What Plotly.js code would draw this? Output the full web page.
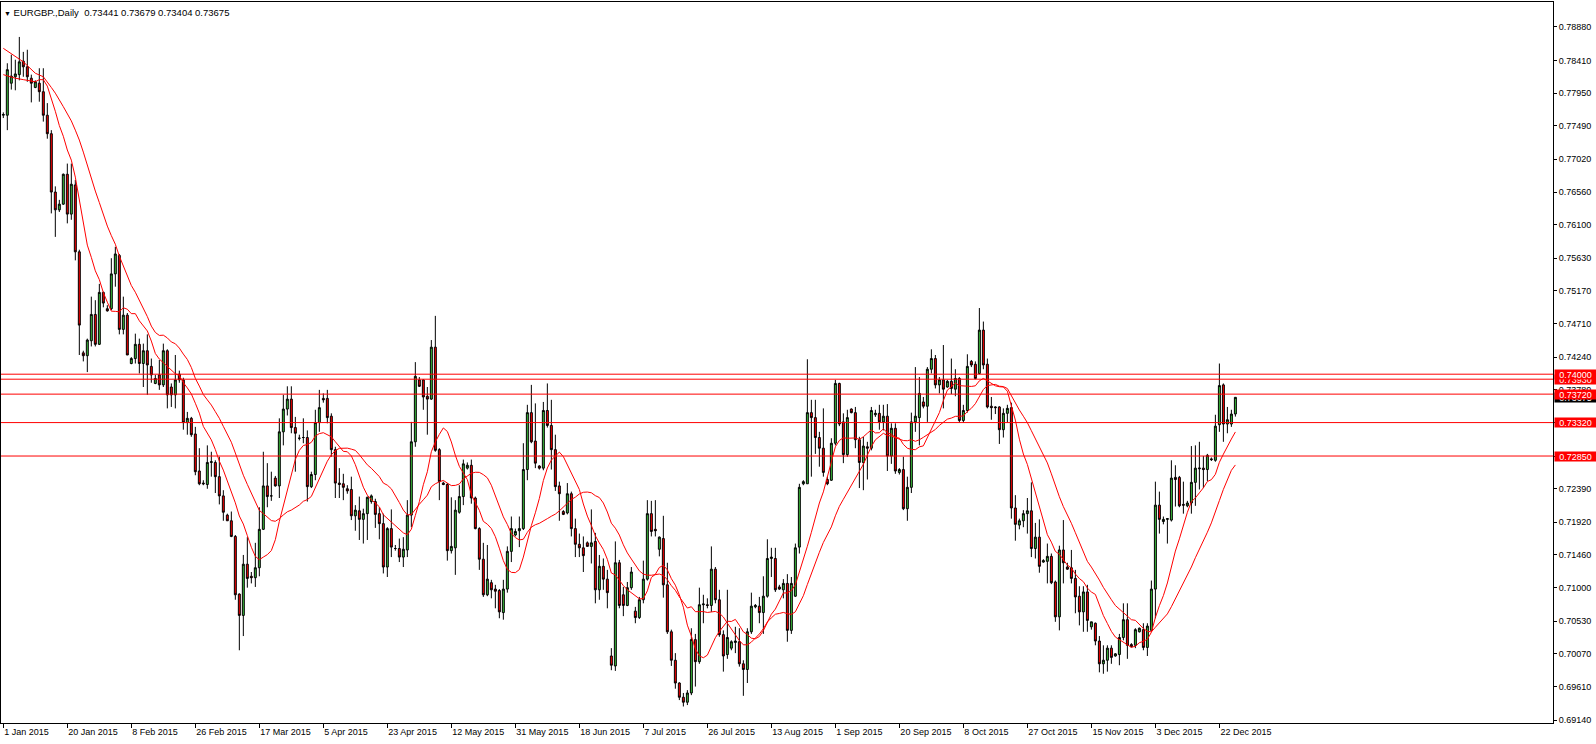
<!DOCTYPE html>
<html>
<head>
<meta charset="utf-8">
<script src="https://cdn.plot.ly/plotly-3.0.1.min.js"></script>
<style>
html,body{margin:0;padding:0;background:#fff;}
#chart{width:1596px;height:744px;}
</style>
</head>
<body>
<div id="chart"></div>
<script>
// ---- Data: EURGBP daily candles (bar index 0 = 1 Jan 2015) ----
const opens = [
0.7764,0.7764,0.7809,0.7818,0.7821,0.7840,0.7832,0.7816,0.7803,0.7809,
0.7797,0.7764,0.7738,0.7656,0.7631,0.7639,0.7681,0.7625,0.7666,0.7572,
0.7430,0.7426,0.7447,0.7484,0.7442,0.7515,0.7492,0.7492,0.7541,0.7567,
0.7463,0.7483,0.7415,0.7422,0.7442,0.7415,0.7433,0.7411,0.7387,0.7399,
0.7385,0.7433,0.7382,0.7371,0.7400,0.7392,0.7332,0.7338,0.7316,0.7264,
0.7247,0.7245,0.7276,0.7276,0.7256,0.7229,0.7202,0.7194,0.7172,0.7091,
0.7061,0.7133,0.7116,0.7114,0.7128,0.7182,0.7243,0.7229,0.7254,0.7243,
0.7319,0.7351,0.7365,0.7325,0.7310,0.7311,0.7311,0.7242,0.7259,0.7332,
0.7366,0.7366,0.7341,0.7294,0.7247,0.7246,0.7239,0.7238,0.7201,0.7208,
0.7196,0.7204,0.7221,0.7221,0.7204,0.7190,0.7129,0.7183,0.7155,0.7155,
0.7143,0.7153,0.7202,0.7305,0.7392,0.7392,0.7369,0.7365,0.7438,0.7294,
0.7247,0.7245,0.7152,0.7156,0.7206,0.7228,0.7268,0.7272,0.7226,0.7183,
0.7140,0.7090,0.7107,0.7098,0.7096,0.7065,0.7098,0.7151,0.7174,0.7180,
0.7183,0.7266,0.7346,0.7306,0.7271,0.7268,0.7349,0.7328,0.7294,0.7243,
0.7207,0.7205,0.7232,0.7183,0.7161,0.7156,0.7163,0.7158,0.7165,0.7097,
0.7130,0.7112,0.7004,0.6990,0.7135,0.7090,0.7075,0.7100,0.7067,0.7058,
0.7083,0.7112,0.7204,0.7182,0.7154,0.7169,0.7104,0.7038,0.6998,0.6966,
0.6946,0.6939,0.6952,0.7027,0.6996,0.7076,0.7076,0.7075,0.7126,0.7083,
0.7034,0.7006,0.7015,0.7023,0.7024,0.6993,0.6985,0.7038,0.7073,0.7074,
0.7065,0.7088,0.7141,0.7141,0.7101,0.7097,0.7106,0.7040,0.7088,0.7157,
0.7246,0.7246,0.7346,0.7339,0.7311,0.7296,0.7252,0.7251,0.7303,0.7387,
0.7333,0.7287,0.7351,0.7346,0.7308,0.7276,0.7298,0.7296,0.7343,0.7345,
0.7333,0.7341,0.7285,0.7324,0.7262,0.7266,0.7211,0.7241,0.7333,0.7339,
0.7361,0.7355,0.7407,0.7422,0.7385,0.7392,0.7382,0.7390,0.7379,0.7394,
0.7335,0.7349,0.7418,0.7414,0.7401,0.7462,0.7414,0.7355,0.7354,0.7354,
0.7322,0.7345,0.7353,0.7212,0.7188,0.7194,0.7204,0.7208,0.7155,0.7171,
0.7136,0.7137,0.7144,0.7108,0.7059,0.7153,0.7129,0.7128,0.7113,0.7088,
0.7066,0.7094,0.7045,0.7050,0.7025,0.6993,0.6998,0.7015,0.7004,0.7006,
0.7030,0.7055,0.7020,0.7019,0.7038,0.7041,0.7016,0.7040,0.7098,0.7216,
0.7193,0.7196,0.7195,0.7255,0.7255,0.7217,0.7215,0.7219,0.7248,0.7267,
0.7268,0.7266,0.7281,0.7279,0.7329,0.7385,0.7330,0.7330,0.73441];

const highs = [
0.7768,0.7837,0.7849,0.7842,0.7874,0.7853,0.7856,0.7821,0.7813,0.7830,
0.7830,0.7781,0.7743,0.7664,0.7645,0.7682,0.7696,0.7696,0.7673,0.7575,
0.7433,0.7450,0.7509,0.7504,0.7527,0.7516,0.7497,0.7563,0.7579,0.7569,
0.7509,0.7486,0.7424,0.7457,0.7450,0.7443,0.7456,0.7422,0.7399,0.7420,
0.7443,0.7435,0.7387,0.7427,0.7405,0.7395,0.7347,0.7340,0.7326,0.7296,
0.7251,0.7300,0.7291,0.7279,0.7284,0.7237,0.7204,0.7207,0.7174,0.7092,
0.7146,0.7171,0.7122,0.7163,0.7213,0.7291,0.7275,0.7263,0.7257,0.7338,
0.7371,0.7383,0.7383,0.7340,0.7315,0.7338,0.7321,0.7263,0.7350,0.7378,
0.7373,0.7378,0.7345,0.7298,0.7268,0.7260,0.7244,0.7256,0.7216,0.7228,
0.7211,0.7228,0.7231,0.7225,0.7213,0.7204,0.7185,0.7210,0.7160,0.7169,
0.7171,0.7223,0.7333,0.7417,0.7396,0.7393,0.7382,0.7448,0.7482,0.7296,
0.7249,0.7247,0.7227,0.7223,0.7244,0.7280,0.7276,0.7280,0.7228,0.7185,
0.7163,0.7160,0.7111,0.7104,0.7098,0.7111,0.7158,0.7200,0.7183,0.7200,
0.7303,0.7357,0.7385,0.7359,0.7272,0.7361,0.7387,0.7364,0.7315,0.7249,
0.7209,0.7247,0.7235,0.7197,0.7176,0.7172,0.7165,0.7210,0.7177,0.7146,
0.7141,0.7125,0.7015,0.7165,0.7139,0.7101,0.7108,0.7129,0.7073,0.7087,
0.7138,0.7223,0.7222,0.7223,0.7172,0.7201,0.7135,0.7041,0.7008,0.6967,
0.6952,0.6956,0.7043,0.7035,0.7100,0.7090,0.7085,0.7158,0.7129,0.7097,
0.7040,0.7097,0.7026,0.7045,0.7043,0.6998,0.7043,0.7093,0.7077,0.7087,
0.7116,0.7168,0.7156,0.7156,0.7104,0.7112,0.7119,0.7115,0.7162,0.7246,
0.7251,0.7421,0.7364,0.7364,0.7319,0.7352,0.7256,0.7310,0.7392,0.7388,
0.7345,0.7350,0.7352,0.7354,0.7312,0.7312,0.7305,0.7354,0.7350,0.7357,
0.7357,0.7358,0.7331,0.7331,0.7268,0.7284,0.7256,0.7346,0.7410,0.7396,
0.7368,0.7410,0.7435,0.7427,0.7396,0.7441,0.7392,0.7422,0.7407,0.7396,
0.7357,0.7428,0.7420,0.7418,0.7493,0.7474,0.7422,0.7368,0.7355,0.7355,
0.7352,0.7357,0.7360,0.7230,0.7197,0.7209,0.7226,0.7248,0.7191,0.7196,
0.7140,0.7162,0.7148,0.7110,0.7159,0.7195,0.7135,0.7153,0.7125,0.7102,
0.7102,0.7104,0.7052,0.7051,0.7032,0.7019,0.7019,0.7019,0.7008,0.7035,
0.7078,0.7078,0.7022,0.7043,0.7044,0.7050,0.7050,0.7110,0.7249,0.7235,
0.7200,0.7197,0.7279,0.7272,0.7257,0.7249,0.7222,0.7299,0.7300,0.7305,
0.7285,0.7288,0.7283,0.7343,0.7415,0.7387,0.7354,0.7350,0.73679];

const lows = [
0.7760,0.7743,0.7800,0.7799,0.7813,0.7818,0.7811,0.7782,0.7802,0.7783,
0.7755,0.7731,0.7626,0.7593,0.7628,0.7638,0.7612,0.7617,0.7560,0.7427,
0.7418,0.7403,0.7439,0.7439,0.7441,0.7494,0.7488,0.7490,0.7523,0.7456,
0.7456,0.7427,0.7414,0.7415,0.7401,0.7382,0.7371,0.7388,0.7386,0.7378,
0.7382,0.7352,0.7354,0.7352,0.7388,0.7322,0.7315,0.7312,0.7258,0.7244,
0.7244,0.7239,0.7256,0.7233,0.7217,0.7194,0.7194,0.7171,0.7083,0.7012,
0.7032,0.7100,0.7106,0.7101,0.7116,0.7181,0.7213,0.7222,0.7242,0.7226,
0.7300,0.7342,0.7317,0.7263,0.7307,0.7303,0.7221,0.7240,0.7251,0.7319,
0.7360,0.7331,0.7284,0.7226,0.7226,0.7223,0.7232,0.7195,0.7180,0.7167,
0.7162,0.7167,0.7218,0.7184,0.7168,0.7120,0.7115,0.7143,0.7152,0.7136,
0.7129,0.7143,0.7185,0.7298,0.7382,0.7350,0.7315,0.7364,0.7291,0.7223,
0.7244,0.7138,0.7148,0.7118,0.7204,0.7216,0.7266,0.7218,0.7182,0.7125,
0.7087,0.7088,0.7085,0.7071,0.7057,0.7055,0.7093,0.7136,0.7172,0.7157,
0.7181,0.7251,0.7303,0.7268,0.7266,0.7265,0.7325,0.7266,0.7236,0.7194,
0.7202,0.7203,0.7172,0.7143,0.7143,0.7122,0.7158,0.7134,0.7078,0.7083,
0.7097,0.7071,0.6984,0.6983,0.7071,0.7060,0.7074,0.7097,0.7050,0.7056,
0.7078,0.7110,0.7172,0.7172,0.7144,0.7086,0.7035,0.6990,0.6958,0.6942,
0.6933,0.6935,0.6949,0.6961,0.6993,0.7050,0.7071,0.7066,0.7078,0.7031,
0.6982,0.7000,0.7012,0.7008,0.6989,0.6948,0.6966,0.7035,0.7071,0.7050,
0.7035,0.7086,0.7115,0.7094,0.7097,0.7085,0.7024,0.7035,0.7087,0.7148,
0.7244,0.7246,0.7256,0.7288,0.7270,0.7256,0.7244,0.7250,0.7300,0.7327,
0.7275,0.7284,0.7345,0.7296,0.7240,0.7237,0.7252,0.7293,0.7340,0.7322,
0.7321,0.7264,0.7274,0.7260,0.7259,0.7209,0.7194,0.7233,0.7319,0.7300,
0.7352,0.7333,0.7401,0.7380,0.7373,0.7352,0.7381,0.7372,0.7369,0.7332,
0.7332,0.7346,0.7410,0.7393,0.7400,0.7407,0.7352,0.7336,0.7344,0.7302,
0.7311,0.7332,0.7197,0.7166,0.7182,0.7185,0.7176,0.7143,0.7141,0.7121,
0.7135,0.7106,0.7105,0.7052,0.7040,0.7106,0.7125,0.7106,0.7064,0.7047,
0.7038,0.7038,0.7041,0.7019,0.6981,0.6979,0.6982,0.6993,0.7003,0.6991,
0.7026,0.7000,0.7016,0.7015,0.7037,0.7012,0.7004,0.7040,0.7057,0.7176,
0.7189,0.7162,0.7193,0.7214,0.7213,0.7204,0.7213,0.7204,0.7215,0.7238,
0.7240,0.7250,0.7278,0.7277,0.7319,0.7305,0.7317,0.7326,0.73404];

const closes = [
0.7765,0.7828,0.7819,0.7822,0.7839,0.7832,0.7818,0.7809,0.7811,0.7797,
0.7764,0.7738,0.7656,0.7631,0.7639,0.7681,0.7625,0.7667,0.7572,0.7469,
0.7426,0.7448,0.7484,0.7442,0.7515,0.7500,0.7489,0.7541,0.7569,0.7463,
0.7483,0.7427,0.7422,0.7442,0.7415,0.7433,0.7413,0.7399,0.7394,0.7385,
0.7433,0.7371,0.7371,0.7392,0.7392,0.7332,0.7338,0.7315,0.7263,0.7246,
0.7246,0.7276,0.7277,0.7256,0.7229,0.7206,0.7194,0.7172,0.7090,0.7061,
0.7133,0.7113,0.7114,0.7128,0.7182,0.7243,0.7228,0.7229,0.7243,0.7319,
0.7351,0.7365,0.7325,0.7317,0.7310,0.7311,0.7242,0.7259,0.7332,0.7353,
0.7364,0.7339,0.7294,0.7247,0.7245,0.7241,0.7236,0.7201,0.7209,0.7196,
0.7204,0.7227,0.7229,0.7203,0.7190,0.7129,0.7183,0.7157,0.7155,0.7143,
0.7154,0.7202,0.7305,0.7397,0.7383,0.7368,0.7365,0.7438,0.7293,0.7249,
0.7245,0.7152,0.7158,0.7209,0.7228,0.7274,0.7272,0.7226,0.7183,0.7140,
0.7090,0.7112,0.7097,0.7095,0.7066,0.7098,0.7151,0.7183,0.7179,0.7183,
0.7266,0.7346,0.7305,0.7275,0.7268,0.7349,0.7328,0.7294,0.7242,0.7232,
0.7203,0.7232,0.7183,0.7161,0.7156,0.7145,0.7158,0.7163,0.7097,0.7130,
0.7112,0.7093,0.6991,0.7135,0.7075,0.7075,0.7100,0.7122,0.7058,0.7083,
0.7112,0.7204,0.7179,0.7180,0.7171,0.7104,0.7038,0.6998,0.6966,0.6946,
0.6939,0.6952,0.7027,0.6996,0.7076,0.7077,0.7075,0.7126,0.7083,0.7034,
0.7004,0.7030,0.7024,0.7025,0.6993,0.6985,0.7038,0.7074,0.7075,0.7065,
0.7088,0.7141,0.7143,0.7097,0.7098,0.7106,0.7040,0.7106,0.7156,0.7241,
0.7249,0.7346,0.7339,0.7311,0.7296,0.7262,0.7246,0.7303,0.7387,0.7330,
0.7287,0.7339,0.7346,0.7308,0.7276,0.7299,0.7296,0.7349,0.7345,0.7333,
0.7341,0.7285,0.7324,0.7264,0.7266,0.7211,0.7241,0.7333,0.7341,0.7373,
0.7355,0.7407,0.7422,0.7385,0.7392,0.7379,0.7390,0.7380,0.7394,0.7335,
0.7349,0.7411,0.7413,0.7394,0.7462,0.7413,0.7354,0.7353,0.7353,0.7322,
0.7345,0.7352,0.7212,0.7189,0.7194,0.7204,0.7208,0.7155,0.7171,0.7130,
0.7138,0.7144,0.7107,0.7059,0.7153,0.7135,0.7126,0.7113,0.7087,0.7066,
0.7094,0.7054,0.7052,0.7025,0.6993,0.6998,0.7015,0.7002,0.7007,0.7030,
0.7055,0.7019,0.7017,0.7041,0.7043,0.7016,0.7046,0.7098,0.7216,0.7196,
0.7196,0.7197,0.7254,0.7252,0.7215,0.7216,0.7219,0.7248,0.7268,0.7268,
0.7266,0.7286,0.7280,0.7327,0.7384,0.7330,0.7336,0.7344,0.73675];

// Moving-average values read from the chart where the averaging window
// reaches back before 1 Jan 2015 (bar index -> value)
const fastMaHeadIdx = [0, 3, 5, 8];
const fastMaHeadVal = [0.7821, 0.7816, 0.7814, 0.7811];
const slowMaHeadIdx = [0, 3, 5, 8, 10, 12, 13, 15, 17, 18];
const slowMaHeadVal = [0.7858, 0.7847, 0.7839, 0.7823, 0.7818, 0.7803, 0.7795, 0.7776, 0.7756, 0.7743];
const fastPeriod = 10;
const slowPeriod = 20;

// Horizontal levels
const levels = [0.74000, 0.73930, 0.73720, 0.73320, 0.72850];
const bidPrice = 0.73675;

// Axis ticks
const xLabels = ["1 Jan 2015","20 Jan 2015","8 Feb 2015","26 Feb 2015","17 Mar 2015","5 Apr 2015",
  "23 Apr 2015","12 May 2015","31 May 2015","18 Jun 2015","7 Jul 2015","26 Jul 2015","13 Aug 2015",
  "1 Sep 2015","20 Sep 2015","8 Oct 2015","27 Oct 2015","15 Nov 2015","3 Dec 2015","22 Dec 2015"];
const barsPerLabel = 16;
const yTicks = [0.78880,0.78410,0.77950,0.77490,0.77020,0.76560,0.76100,0.75630,0.75170,0.74710,
  0.74240,0.73780,0.73320,0.72850,0.72390,0.71920,0.71460,0.71000,0.70530,0.70070,0.69610,0.69140];

const header = {symbol: "EURGBP.,Daily", o: 0.73441, h: 0.73679, l: 0.73404, c: 0.73675};

// ---- Build ----
const n = closes.length;
const xIdx = closes.map((_, i) => i);

function sma(arr, period, startIdxs, startVals) {
  const xs = startIdxs.slice(), ys = startVals.slice();
  for (let i = period - 1; i < arr.length; i++) {
    let s = 0;
    for (let j = i - period + 1; j <= i; j++) s += arr[j];
    xs.push(i); ys.push(s / period);
  }
  return {xs, ys};
}
const fast = sma(closes, fastPeriod, fastMaHeadIdx, fastMaHeadVal);
const slow = sma(closes, slowPeriod, slowMaHeadIdx, slowMaHeadVal);

const FONT = "Liberation Sans, Arial, sans-serif";

const traces = [
  {
    type: 'candlestick', x: xIdx, open: opens, high: highs, low: lows, close: closes,
    increasing: {line: {color: '#000000', width: 1}, fillcolor: '#3cbf3c'},
    decreasing: {line: {color: '#000000', width: 1}, fillcolor: '#ff0000'},
    whiskerwidth: 0, hoverinfo: 'skip', showlegend: false
  },
  {type: 'scatter', mode: 'lines', x: fast.xs, y: fast.ys, line: {color: '#ff0000', width: 1}, hoverinfo: 'skip', showlegend: false},
  {type: 'scatter', mode: 'lines', x: slow.xs, y: slow.ys, line: {color: '#ff0000', width: 1}, hoverinfo: 'skip', showlegend: false}
];

const shapes = levels.map(v => ({
  type: 'line', xref: 'paper', x0: 0, x1: 1, yref: 'y', y0: v, y1: v,
  line: {color: '#ff0000', width: 1}, layer: 'above'
}));

function priceLabel(v, bg) {
  return {xref: 'paper', x: 1, xanchor: 'left', xshift: 1, yref: 'y', y: v, yanchor: 'middle',
    text: v.toFixed(5), showarrow: false, bgcolor: bg, width: 41, height: 9, borderpad: 0,
    font: {family: FONT, size: 9, color: '#ffffff'}};
}
const annotations = [
  priceLabel(levels[1], '#ff0000'),
  priceLabel(levels[0], '#ff0000'),
  priceLabel(bidPrice, '#000000'),
  priceLabel(levels[2], '#ff0000'),
  priceLabel(levels[3], '#ff0000'),
  priceLabel(levels[4], '#ff0000'),
  {xref: 'paper', x: 0, xanchor: 'left', xshift: 1, yref: 'paper', y: 1, yanchor: 'middle', yshift: -10,
   showarrow: false,
   text: '<span style="font-size:7px">▼</span> ' + header.symbol + '\u00a0\u00a0' +
         [header.o, header.h, header.l, header.c].map(v => v.toFixed(5)).join(' '),
   font: {family: FONT, size: 9.5, color: '#000000'}}
];

const layout = {
  width: 1596, height: 744,
  margin: {l: 1, r: 43, t: 2, b: 21, pad: 0},
  paper_bgcolor: '#ffffff', plot_bgcolor: '#ffffff',
  showlegend: false, hovermode: false, dragmode: false,
  xaxis: {
    type: 'linear', range: [-0.58, 387.4],
    tickvals: xLabels.map((_, i) => i * barsPerLabel), ticktext: xLabels,
    ticks: 'outside', ticklen: 4, tickcolor: '#000000', tickwidth: 1,
    ticklabelposition: 'outside right',
    tickfont: {family: FONT, size: 9, color: '#000000'},
    showline: true, mirror: true, linecolor: '#000000', linewidth: 1,
    showgrid: false, zeroline: false, rangeslider: {visible: false}, fixedrange: true
  },
  yaxis: {
    side: 'right', range: [0.69098, 0.79231],
    tickvals: yTicks, tickformat: '.5f',
    ticks: 'outside', ticklen: 3, tickcolor: '#000000', tickwidth: 1,
    tickfont: {family: FONT, size: 9, color: '#000000'},
    showline: true, mirror: true, linecolor: '#000000', linewidth: 1,
    showgrid: false, zeroline: false, fixedrange: true
  },
  shapes: shapes,
  annotations: annotations
};

Plotly.newPlot('chart', traces, layout, {staticPlot: true, displayModeBar: false});
</script>
</body>
</html>
